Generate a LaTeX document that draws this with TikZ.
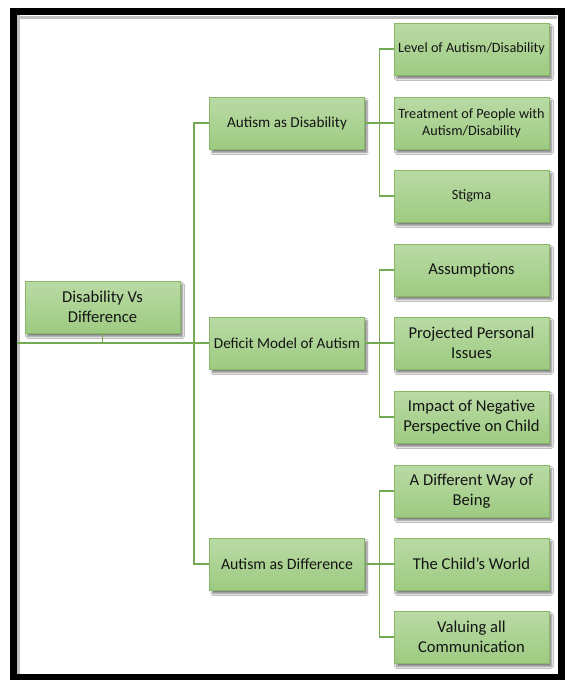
\documentclass[tikz,border=0pt]{standalone}
\usepackage{fontspec}
\setmainfont{Carlito}
\usepackage{tikz}
\usetikzlibrary{positioning, shadows.blur}

\definecolor{boxtop}{HTML}{BADAA5}
\definecolor{boxbot}{HTML}{9DCB81}
\definecolor{boxedge}{HTML}{86B868}
\definecolor{linkgreen}{HTML}{74AA52}
\definecolor{txt}{HTML}{151515}

\tikzset{
  topic/.style={rectangle, draw=boxedge, line width=0.8pt, top color=boxtop, bottom color=boxbot,
    minimum width=155pt, minimum height=52pt, inner sep=1pt, align=center, text=txt,
    blur shadow={shadow xshift=2.5pt, shadow yshift=-3.5pt, shadow blur steps=6, shadow opacity=50}},
  small/.style={font=\fontsize{14.2}{16.5}\selectfont},
  mid/.style={font=\fontsize{15.2}{19}\selectfont},
  big/.style={font=\fontsize{16.6}{20}\selectfont},
  link/.style={draw=linkgreen, line width=1.4pt}
}

\begin{document}
\begin{tikzpicture}[x=1pt, y=-1pt]
  \useasboundingbox (0,0) rectangle (565,680);
  % frame
  \fill[white] (0,0) rectangle (565,680);
  \draw[black!25, line width=3pt] (18,14) -- (18,674);
  \draw[black!25, line width=3pt] (16,17) -- (557,17);
  \draw[black, line width=6.8pt] (13.4,11.4) rectangle (561.4,677);
  \coordinate (lft) at (16.8,343);

  % boxes
  \node[topic, big] (root) at (102.5,307) {Disability Vs\\Difference};

  \node[topic, mid] (disab) at (287,123) {Autism as Disability};
  \node[topic, mid] (deficit) at (287,343) {Deficit Model of Autism};
  \node[topic, font=\fontsize{15.8}{19}\selectfont] (differ) at (287,564) {Autism as Difference};

  \node[topic, small] (level) at (471.5,49) {Level of Autism/Disability};
  \node[topic, small] (treat) at (471.5,123) {Treatment of People with\\Autism/Disability};
  \node[topic, small] (stigma) at (471.5,196) {Stigma};

  \node[topic, big] (assume) at (471.5,270) {Assumptions};
  \node[topic, big] (project) at (471.5,343) {Projected Personal\\Issues};
  \node[topic, big] (impact) at (471.5,417) {Impact of Negative\\Perspective on Child};

  \node[topic, big] (being) at (471.5,491) {A Different Way of\\Being};
  \node[topic, big] (world) at (471.5,564) {The Child's World};
  \node[topic, big] (valuing) at (471.5,637) {Valuing all\\Communication};

  % connectors
  \draw[link] (lft) -- (deficit.west);
  \draw[link] (root.south) -- (root.south |- lft);
  \draw[link] (disab.west) -- ++(-15,0) |- (differ.west);

  \draw[link] (disab.east) -- (treat.west);
  \draw[link] (level.west) -- ++(-14,0) |- (stigma.west);

  \draw[link] (deficit.east) -- (project.west);
  \draw[link] (assume.west) -- ++(-14,0) |- (impact.west);

  \draw[link] (differ.east) -- (world.west);
  \draw[link] (being.west) -- ++(-14,0) |- (valuing.west);
\end{tikzpicture}
\end{document}
